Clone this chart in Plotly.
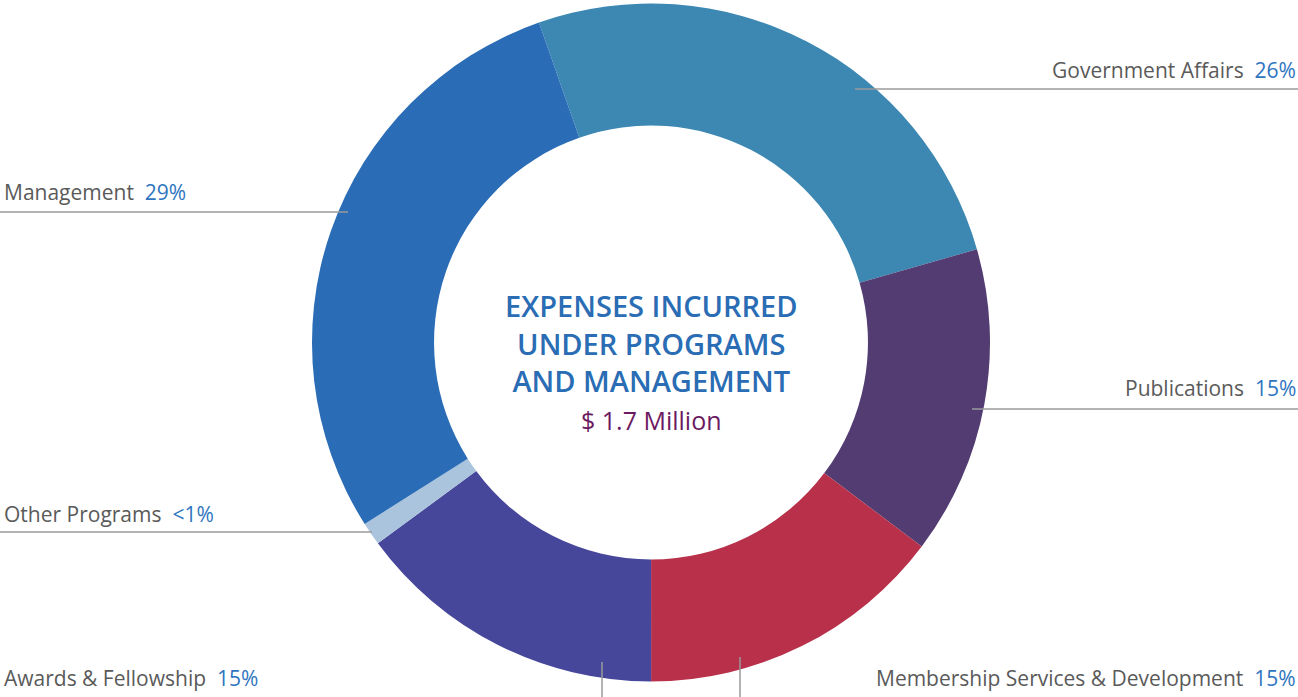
import plotly.graph_objects as go

# ---- data ----
categories = ["Government Affairs", "Publications", "Membership Services & Development",
              "Awards & Fellowship", "Other Programs", "Management"]
values = [25.9, 14.7, 14.7, 14.9, 1.1, 28.6]
pct_labels = ["26%", "15%", "15%", "15%", "<1%", "29%"]
colors = ["#3c88b3", "#523c72", "#b8304a", "#46469a", "#a9c4dc", "#2a6cb6"]
title_lines = ["EXPENSES INCURRED", "UNDER PROGRAMS", "AND MANAGEMENT"]
total_text = "$ 1.7 Million"

W, H = 1298, 697
CX, CY, R = 651, 342.5, 339


def px(x):
    return x / W


def py(y):
    return 1 - y / H


fig = go.Figure()
fig.add_trace(go.Pie(
    labels=categories,
    values=values,
    sort=False,
    direction="clockwise",
    rotation=-19.3,
    hole=0.64,
    marker=dict(colors=colors, line=dict(width=0)),
    textinfo="none",
    hoverinfo="label+percent",
    showlegend=False,
    domain=dict(x=[px(CX - R), px(CX + R)], y=[py(CY + R), py(CY - R)]),
))

label_font = dict(family="Open Sans", size=21, color="#5a5a5a")
pct_color = "#2e75c0"

label_pos = {
    "Government Affairs": (1298, 70, "right"),
    "Management": (2, 192, "left"),
    "Publications": (1298, 388, "right"),
    "Other Programs": (2, 514, "left"),
    "Awards & Fellowship": (2, 678, "left"),
    "Membership Services & Development": (1298, 678, "right"),
}
for cat, pct in zip(categories, pct_labels):
    x, y, anc = label_pos[cat]
    fig.add_annotation(
        x=px(x), y=py(y), xref="paper", yref="paper",
        xanchor=anc, yanchor="middle", showarrow=False,
        text=f"{cat}\u00a0\u00a0<span style='color:{pct_color}'>{pct.replace('<', '&lt;')}</span>",
        font=label_font,
    )

# leader lines
leaders = [
    (855, 89, 1298, 89),
    (0, 212, 348, 212),
    (972, 409, 1298, 409),
    (0, 532, 372, 532),
    (602, 662, 602, 697),
    (740, 657, 740, 697),
]
for x0, y0, x1, y1 in leaders:
    fig.add_shape(type="line", xref="paper", yref="paper",
                  x0=px(x0), y0=py(y0), x1=px(x1), y1=py(y1),
                  line=dict(color="#9a9a9a", width=1.5))

# center title (single block)
center_text = "<br>".join(title_lines) + \
    f"<br><span style='font-size:25px;color:#6b1a5f;font-weight:500'>{total_text}</span>"
fig.add_annotation(x=px(CX), y=py(361), xref="paper", yref="paper",
                   xanchor="center", yanchor="middle", showarrow=False,
                   align="center", text=center_text,
                   font=dict(family="Open Sans", size=29, weight=600, color="#2a6db5"))

fig.update_layout(
    width=W, height=H,
    margin=dict(l=0, r=0, t=0, b=0),
    paper_bgcolor="white", plot_bgcolor="white",
)

fig.write_html("out.html",
               config={"displayModeBar": False},
               post_script="document.body.style.margin='0';document.body.style.overflow='hidden';")
